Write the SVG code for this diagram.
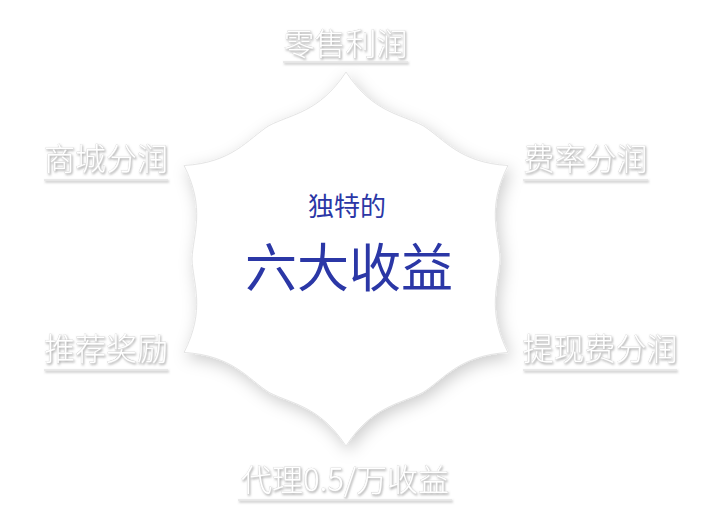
<svg xmlns="http://www.w3.org/2000/svg" width="720" height="517" viewBox="0 0 720 517">
  <defs>
    <filter id="starShadow" x="-20%" y="-20%" width="140%" height="140%">
      <feDropShadow dx="3" dy="5" stdDeviation="8" flood-color="#000" flood-opacity="0.2"/>
    </filter>
    <filter id="emboss" x="-10%" y="-30%" width="120%" height="160%">
      <feDropShadow dx="1" dy="1.5" stdDeviation="0.8" flood-color="#777" flood-opacity="0.6"/>
    </filter>
    <style>
      .lbl { font-family: "Noto Sans CJK SC", "Noto Sans", sans-serif; font-size: 31px; font-weight: 300; fill: #ffffff; stroke: #cccccc; stroke-width: 0.5; paint-order: stroke; text-anchor: middle; }
      .uline { stroke: #e4e4e4; stroke-width: 1.5; }
      .title { font-family: "Noto Sans CJK SC", "Noto Sans", sans-serif; fill: #2b37a6; text-anchor: middle; }
    </style>
  </defs>
  <rect width="720" height="517" fill="#ffffff"/>

  <g id="star">
    <path transform="translate(346,259)" filter="url(#starShadow)" fill="#ffffff" stroke="#e4e4e4" stroke-width="1"
      d="M0,-187 C-26.7,-146.24 -54.85,-145 -77,-133.37 C-98.15,-120 -113.3,-96.24 -161.95,-93.5 C-140,-50 -153,-25 -154,0 C-153,25 -140,50 -161.95,93.5 C-113.3,96.24 -98.15,120 -77,133.37 C-54.85,145 -26.7,146.24 0,187 C26.7,146.24 54.85,145 77,133.37 C98.15,120 113.3,96.24 161.95,93.5 C140,50 153,25 154,0 C153,-25 140,-50 161.95,-93.5 C113.3,-96.24 98.15,-120 77,-133.37 C54.85,-145 26.7,-146.24 0,-187 Z"/>
    <text class="title" x="347" y="216" font-size="26">独特的</text>
    <text class="title" x="349" y="287" font-size="52">六大收益</text>
  </g>

  <g id="label-retail" filter="url(#emboss)">
    <text class="lbl" x="345.5" y="55">零售利润</text>
    <line class="uline" x1="283" y1="62" x2="408" y2="62"/>
  </g>
  <g id="label-mall" filter="url(#emboss)">
    <text class="lbl" x="106" y="170">商城分润</text>
    <line class="uline" x1="44" y1="180" x2="168" y2="180"/>
  </g>
  <g id="label-fee" filter="url(#emboss)">
    <text class="lbl" x="585.5" y="170">费率分润</text>
    <line class="uline" x1="523" y1="180" x2="648" y2="180"/>
  </g>
  <g id="label-referral" filter="url(#emboss)">
    <text class="lbl" x="106" y="360">推荐奖励</text>
    <line class="uline" x1="44" y1="370" x2="168" y2="370"/>
  </g>
  <g id="label-withdraw" filter="url(#emboss)">
    <text class="lbl" x="600" y="360">提现费分润</text>
    <line class="uline" x1="523" y1="370" x2="677" y2="370"/>
  </g>
  <g id="label-agent" filter="url(#emboss)">
    <text class="lbl" x="345" y="491">代理0.5/万收益</text>
    <line class="uline" x1="238" y1="500" x2="452" y2="500"/>
  </g>

  <g id="connectors"></g>
</svg>
